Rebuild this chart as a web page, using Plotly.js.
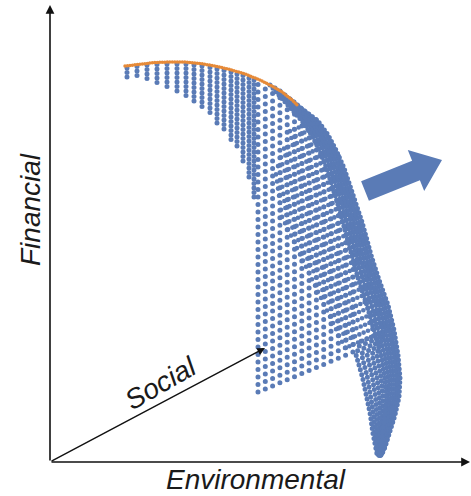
<!DOCTYPE html>
<html><head><meta charset="utf-8">
<script src="https://cdn.plot.ly/plotly-3.0.1.min.js"></script>
<style>
html,body{margin:0;padding:0;background:#fff;}
#chart{width:471px;height:496px;}
.scatterlayer .js-line{stroke-linecap:round !important;}
</style></head><body><div id="chart"></div>
<script>
// Orange: two-objective front (Financial vs Environmental)
const frontEnv = [75,90,105,120,135,150,165,180,195,210,222,232,241,248];
const frontFin = [396,398,399.5,400,400,398.5,396,392.5,388,382,376,370,363,356];

// Short solution columns hanging below the front
const colEnv    = [77,87,97,107,117,127,136,144,152,160,167,174,181,187,193,199,204];
const colTop    = [394,395.5,397,397.5,398,398,398,397,396,394.5,393,391.5,390,388,386.5,384,382];
const colBottom = [384,382,379,376,372,368,363,358,352,345,338,331,322,312,300,284,262];

// Lattice columns (social direction sweep)
const latEnv    = [208,215.3,222.6,229.9,237.2,244.5,251.8,259.1,266.4,273.7,281,288.3,295.6,302.9];
const latBottom = [70,73.1,76.1,79.2,82.3,85.3,88.4,91.5,94.5,97.6,100.7,103.7,106.8,109.9];
const latTop    = [381,378,374,370,365,359,354,349,343,334,323,309,291,262];

// Compressed rows where the surface turns away (start -> end)
const rowEnv0 = [295,292,289,286,283,280,277,274,271,268,265,262,259,256,253,250,247,244,241,238,235,232,231,230,229,228,227,226,228,231,234,237,240];
const rowFin0 = [114,120.3,126.5,132.8,139,145.2,151.5,157.7,164,170.2,176.4,182.7,188.9,195.2,201.4,207.6,213.9,220.1,226.4,232.6,238.8,245.1,252.2,259.2,266.3,273.4,280.5,287.6,295.9,304.7,313.4,322.2,330.9];
const rowEnv1 = [339,337,335.6,333.5,331.5,329.5,327,325,323,320.5,318.5,316.5,314.5,312.5,310.5,308.5,306.5,304.5,302.5,300.5,298,296,294,291.5,289,286.5,284,281,278,275,271,267,263];
const rowFin1 = [132.5,139.2,145.8,152.7,159.4,166,172.5,179.1,185.8,192.3,198.9,205.6,212.2,218.9,225.5,232.2,238.9,245.5,252.2,258.8,265.3,272,278.6,285.1,291.5,298,304.4,310.7,317.1,323.1,329,334.8,340.6];

// Outer band along the silhouette: start point on the front, then shared Financial levels
const bandTopEnv = [248,244,240,235,230,225,220];
const bandTopFin = [356,360,363,367,371,374,377];
const bandFin = [341,327,312,294,277,259,240,222,207,182,157,132,107,84,65,47,30,15,6];
const bandEnv = [
 [268,278,286,294,300,306,312,317,321,329,338,344,348,350,349,345,340,335,331],
 [265.9,275.8,283.8,291.7,297.6,303.5,309.4,314.4,318.3,326.3,335.2,341.3,345.7,348,347.3,343.7,339.1,334.5,330.8],
 [263.7,273.6,281.5,289.3,295.2,301,306.8,311.7,315.6,323.5,332.3,338.6,343.4,345.9,345.5,342.3,338.1,334,330.6],
 [261.1,271,278.8,286.5,292.3,298,303.7,308.5,312.4,320.2,328.9,335.4,340.6,343.4,343.4,340.7,337,333.4,330.4],
 [258.5,268.3,276.1,283.7,289.4,295,300.6,305.3,309.1,316.9,325.5,332.1,337.9,341,341.3,339.1,335.8,332.8,330.1],
 [255.5,265.2,273,280.4,286.1,291.5,296.9,301.6,305.3,313,321.5,328.3,334.7,338.1,338.8,337.2,334.5,332.1,329.8],
 [252.1,261.7,269.3,276.6,282.2,287.5,292.8,297.4,301,308.6,316.9,324,331,334.8,336,335,333,331.3,329.5]
];

// Tongue (low Financial tip): start point on the last compressed row, then shared Financial levels
const tongueTopEnv = [333,328,323,317,311];
const tongueTopFin = [130,127.9,125.8,123.2,120.7];
const tongueFin = [107,84,65,47,30,15,6];
const tongueEnv = [
 [326.8,331.1,332.9,332.6,331.3,330.4,329.2],
 [322.2,327,329.4,329.9,329.4,329.4,328.8],
 [317.2,322.5,325.5,326.9,327.3,328.3,328.3],
 [311.7,317.6,321.3,323.7,325,327.1,327.8],
 [306.1,312.7,317.1,320.4,322.7,325.9,327.4]
];

const BLUE = '#5a7bb6', ORANGE = '#e68a38';

function columns(xs, a, b){
  const x=[], y=[];
  xs.forEach((v,i)=>{ x.push(v,v,null); y.push(a[i],b[i],null); });
  return {x,y};
}
function segments(x0,y0,x1,y1){
  const x=[], y=[];
  x0.forEach((v,i)=>{ x.push(v,x1[i],null); y.push(y0[i],y1[i],null); });
  return {x,y};
}
function curves(rows, ys, topX, topY){
  const x=[], y=[];
  rows.forEach((row,k)=>{
    if(topX){ x.push(topX[k]); y.push(topY[k]); }
    row.forEach((v,i)=>{x.push(v); y.push(ys[i]);});
    x.push(null); y.push(null);
  });
  return {x,y};
}
const band = curves(bandEnv, bandFin, bandTopEnv, bandTopFin);
const tongue = curves(tongueEnv, tongueFin, tongueTopEnv, tongueTopFin);
const rows = segments(rowEnv0, rowFin0, rowEnv1, rowFin1);
const lc = columns(latEnv, latBottom, latTop);
const tc = columns(colEnv, colTop, colBottom);

const dotLine = (d, sp, w) => ({type:'scatter', mode:'lines', x:d.x, y:d.y, hoverinfo:'skip',
  line:{color:BLUE, width:w||5, dash:'0px,'+sp+'px'}});
const traces = [
  dotLine(lc, 7.5),
  dotLine(rows, 4.7, 4.6),
  dotLine(tongue, 5),
  dotLine(band, 4.5),
  dotLine(tc, 4.5),
  {type:'scatter', mode:'lines', x:frontEnv, y:frontFin, hoverinfo:'skip',
   line:{color:ORANGE, width:3.5, dash:'0px,2.5px'}}
];

const txtFont = {family:'Liberation Sans, Arial, sans-serif', size:28, color:'#1a1a1a', style:'italic'};
const arrowBase = {xref:'x', yref:'y', axref:'x', ayref:'y', text:'', showarrow:true,
  arrowhead:2, arrowsize:1.1, arrowwidth:1.6, arrowcolor:'#111', standoff:0, startstandoff:0};

const layout = {
  width:471, height:496, margin:{l:0,r:0,t:0,b:0},
  paper_bgcolor:'#fff', plot_bgcolor:'#fff', showlegend:false,
  xaxis:{range:[-50,421], visible:false, fixedrange:true},
  yaxis:{range:[-34,462], visible:false, fixedrange:true},
  shapes:[{type:'path', xref:'x', yref:'y',
    path:'M311.1,280.7 L362.1,301.2 L357.8,311.9 L392,302 L374.2,271.1 L369.9,281.8 L318.9,261.3 Z',
    fillcolor:BLUE, line:{width:0}}],
  annotations:[
    Object.assign({}, arrowBase, {x:420, y:0, ax:0, ay:0}),
    Object.assign({}, arrowBase, {x:0, y:457, ax:0, ay:0}),
    Object.assign({}, arrowBase, {x:215, y:114, ax:0, ay:0, arrowwidth:1.4}),
    {xref:'x', yref:'y', x:-20, y:252, text:'Financial', textangle:-90, showarrow:false, font:txtFont},
    {xref:'x', yref:'y', x:206, y:-17, text:'Environmental', showarrow:false, font:txtFont},
    {xref:'x', yref:'y', x:110, y:79, text:'Social', textangle:-30, showarrow:false, font:txtFont}
  ]
};
Plotly.newPlot('chart', traces, layout, {staticPlot:true, displayModeBar:false});
</script></body></html>
